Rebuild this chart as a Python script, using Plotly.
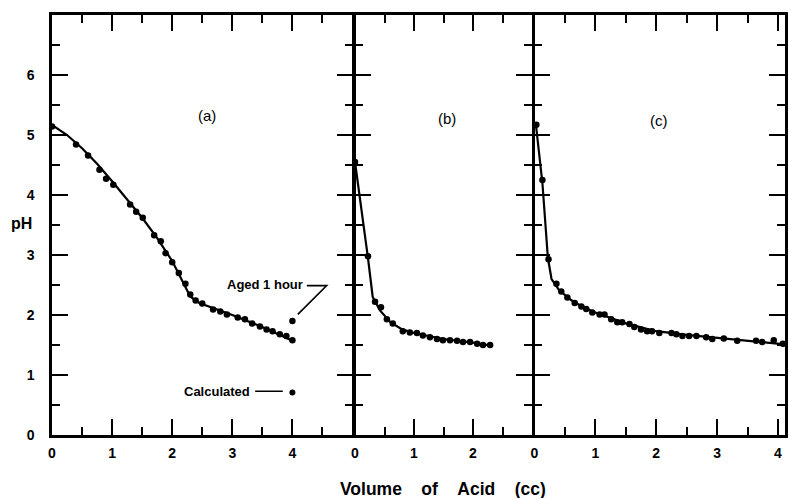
import plotly.graph_objects as go

# ---- data ----
# panel (a)
a_vol = [0.0, 0.40, 0.60, 0.79, 0.90, 1.02, 1.30, 1.40, 1.51, 1.70, 1.81, 1.89, 2.00, 2.11, 2.22,
         2.30, 2.39, 2.50, 2.68, 2.80, 2.91, 3.09, 3.21, 3.33, 3.46, 3.57, 3.67, 3.79, 3.90, 4.00]
a_ph = [5.14, 4.84, 4.66, 4.42, 4.27, 4.17, 3.84, 3.72, 3.62, 3.33, 3.23, 3.03, 2.88, 2.70, 2.52,
        2.34, 2.24, 2.19, 2.09, 2.06, 2.01, 1.96, 1.93, 1.86, 1.81, 1.76, 1.73, 1.68, 1.65, 1.58]
a_line_vol = [0.0, 0.25, 0.5, 0.75, 1.0, 1.25, 1.5, 1.75, 2.0, 2.3, 2.45, 3.0, 3.5, 4.0]
a_line_ph = [5.17, 5.0, 4.78, 4.52, 4.23, 3.93, 3.62, 3.28, 2.90, 2.31, 2.20, 2.00, 1.80, 1.57]
aged_vol = [4.0]
aged_ph = [1.90]
calc_vol = [4.0]
calc_ph = [0.71]

# panel (b)
b_vol = [0.0, 0.22, 0.34, 0.44, 0.54, 0.64, 0.81, 0.93, 1.05, 1.15, 1.27, 1.39, 1.49, 1.61, 1.73,
         1.83, 1.95, 2.07, 2.17, 2.29]
b_ph = [4.55, 2.98, 2.22, 2.13, 1.93, 1.86, 1.73, 1.71, 1.70, 1.66, 1.63, 1.60, 1.58, 1.58, 1.57,
        1.55, 1.55, 1.52, 1.50, 1.50]
b_line_vol = [0.0, 0.1, 0.22, 0.30, 0.42, 0.6, 0.8, 1.0, 1.5, 2.0, 2.3]
b_line_ph = [4.55, 3.85, 2.95, 2.30, 2.08, 1.88, 1.76, 1.70, 1.60, 1.54, 1.49]

# panel (c)
c_vol = [0.03, 0.13, 0.23, 0.36, 0.44, 0.54, 0.66, 0.77, 0.85, 0.95, 1.07, 1.15, 1.26, 1.36, 1.44,
         1.56, 1.64, 1.75, 1.85, 1.93, 2.05, 2.25, 2.33, 2.43, 2.54, 2.66, 2.82, 2.92, 3.11, 3.33,
         3.64, 3.74, 3.93, 4.08]
c_ph = [5.17, 4.25, 2.93, 2.52, 2.39, 2.29, 2.20, 2.14, 2.10, 2.04, 2.01, 2.01, 1.93, 1.88, 1.88,
        1.85, 1.80, 1.76, 1.73, 1.73, 1.70, 1.70, 1.68, 1.65, 1.65, 1.65, 1.63, 1.60, 1.61, 1.57,
        1.57, 1.55, 1.58, 1.52]
c_line_vol = [0.02, 0.13, 0.22, 0.28, 0.4, 0.6, 0.8, 1.0, 1.5, 2.0, 2.5, 3.0, 3.5, 4.12]
c_line_ph = [5.2, 4.2, 2.95, 2.6, 2.42, 2.25, 2.13, 2.04, 1.86, 1.73, 1.67, 1.62, 1.58, 1.51]

ph_ticks = [0, 1, 2, 3, 4, 5, 6]
a_ticks = [0, 1, 2, 3, 4]
b_ticks = [0, 1, 2]
c_ticks = [0, 1, 2, 3, 4]

FONT = "Liberation Sans"
BLACK = "black"

# ---- layout geometry (pixels) ----
W, H = 788, 498
ML, MR, MT, MB = 52, 3, 15, 63
PW = W - ML - MR
LW = 2.5
a_right = 352.5
b_left, b_right = a_right + LW, 532.0
c_left = b_right + LW

def fx(px):
    return (px - ML) / PW

fig = go.Figure()

def add_panel(xv, yv, lx, ly, xa, ya):
    fig.add_trace(go.Scatter(x=lx, y=ly, mode="lines", line=dict(color=BLACK, width=2.2),
                             xaxis=xa, yaxis=ya, showlegend=False, hoverinfo="skip"))
    fig.add_trace(go.Scatter(x=xv, y=yv, mode="markers", marker=dict(color=BLACK, size=6.5),
                             xaxis=xa, yaxis=ya, showlegend=False))

add_panel(a_vol, a_ph, a_line_vol, a_line_ph, "x", "y")
add_panel(b_vol, b_ph, b_line_vol, b_line_ph, "x2", "y2")
add_panel(c_vol, c_ph, c_line_vol, c_line_ph, "x3", "y3")
fig.add_trace(go.Scatter(x=aged_vol, y=aged_ph, mode="markers", marker=dict(color=BLACK, size=6.5),
                         xaxis="x", yaxis="y", showlegend=False))
fig.add_trace(go.Scatter(x=calc_vol, y=calc_ph, mode="markers", marker=dict(color=BLACK, size=6),
                         xaxis="x", yaxis="y", showlegend=False))

common = dict(showline=True, linewidth=LW, linecolor=BLACK, mirror="ticks", ticks="inside",
              ticklen=16, tickwidth=2, tickcolor=BLACK, showgrid=False, zeroline=False,
              automargin=False,
              tickfont=dict(family=FONT, size=14, color=BLACK, weight="bold"),
              minor=dict(ticks="inside", ticklen=8, tickwidth=2, tickcolor=BLACK, dtick=0.5,
                         showgrid=False))

fig.update_layout(
    width=W, height=H,
    margin=dict(l=ML, r=MR, t=MT, b=MB),
    paper_bgcolor="white", plot_bgcolor="white",
    xaxis=dict(domain=[0, fx(a_right)], range=[0, 5], anchor="y", tickvals=a_ticks,
               ticklabelstandoff=3, **common),
    xaxis2=dict(domain=[fx(b_left), fx(b_right)], range=[0, 3], anchor="y2", tickvals=b_ticks,
                ticklabelstandoff=3, **common),
    xaxis3=dict(domain=[fx(c_left), 1], range=[0, 4.115], anchor="y3", tickvals=c_ticks,
                ticklabelstandoff=3, **common),
    yaxis=dict(domain=[0, 1], range=[0, 7], anchor="x", tickvals=ph_ticks,
               ticklabelstandoff=12, **common),
    yaxis2=dict(domain=[0, 1], range=[0, 7], anchor="x2", tickvals=ph_ticks,
                showticklabels=False, **common),
    yaxis3=dict(domain=[0, 1], range=[0, 7], anchor="x3", tickvals=ph_ticks,
                showticklabels=False, **common),
)

lab = dict(family=FONT, size=15, color=BLACK)
small = dict(family=FONT, size=13, color=BLACK, weight="bold")
fig.add_annotation(x=2.58, y=5.33, xref="x", yref="y", text="(a)", showarrow=False, font=lab)
fig.add_annotation(x=1.56, y=5.28, xref="x2", yref="y2", text="(b)", showarrow=False, font=lab)
fig.add_annotation(x=2.05, y=5.25, xref="x3", yref="y3", text="(c)", showarrow=False, font=lab)
fig.add_annotation(x=4.21, y=2.51, xref="x", yref="y", text="Aged 1 hour", showarrow=False,
                   font=small, xanchor="right")
fig.add_annotation(x=3.33, y=0.73, xref="x", yref="y", text="Calculated", showarrow=False,
                   font=small, xanchor="right")
fig.add_shape(type="path", xref="x", yref="y", path="M 4.24 2.49 L 4.57 2.49 L 4.09 2.01",
              line=dict(color=BLACK, width=1.6))
fig.add_shape(type="line", xref="x", yref="y", x0=3.38, y0=0.73, x1=3.84, y1=0.73,
              line=dict(color=BLACK, width=1.6))

sp = "\u00a0" * 4
fig.add_annotation(x=fx(22), y=(H - MB - 223) / (H - MT - MB), xref="paper", yref="paper",
                   text="<b>pH</b>", showarrow=False, xanchor="center", yanchor="middle",
                   font=dict(family=FONT, size=16, color=BLACK))
fig.add_annotation(x=fx(443), y=(H - MB - 489) / (H - MT - MB), xref="paper", yref="paper",
                   text="<b>Volume" + sp + "of" + sp + "Acid" + sp + "(cc)</b>",
                   showarrow=False, xanchor="center", yanchor="middle",
                   font=dict(family=FONT, size=17.5, color=BLACK))

fig.write_html("out.html", config={"displayModeBar": False},
               post_script="document.body.style.margin='0px';document.body.style.overflow='hidden';")
